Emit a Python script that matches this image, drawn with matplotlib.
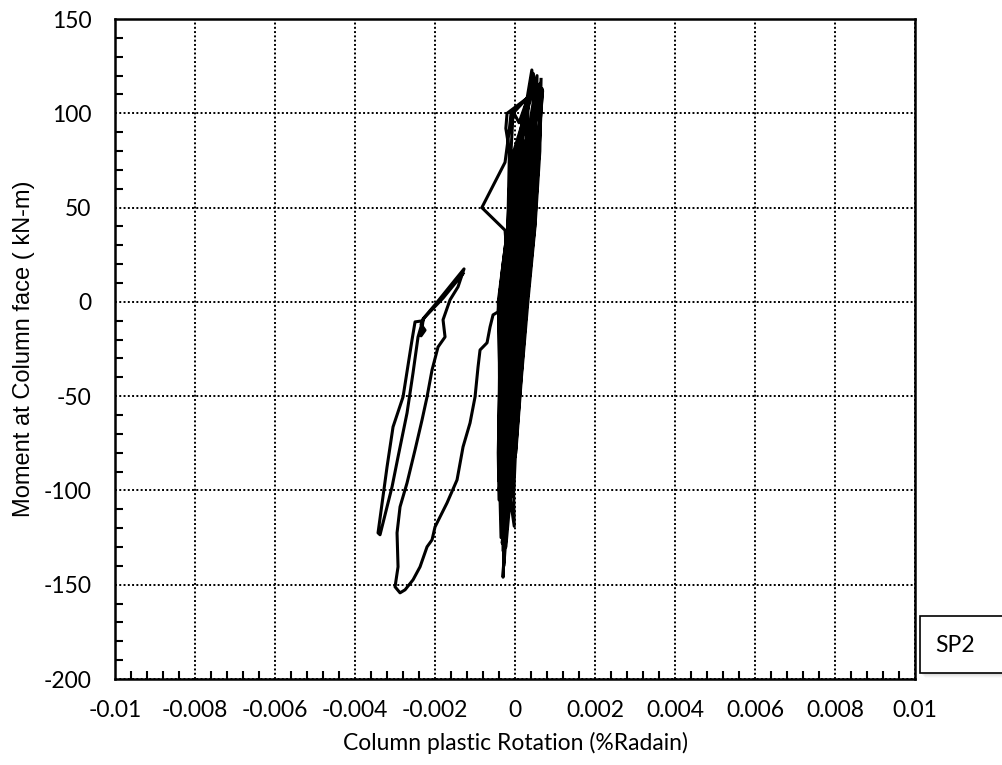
"""Moment-rotation hysteresis at the column face, specimen SP2."""

import matplotlib

matplotlib.use("Agg")

import matplotlib.pyplot as plt  # noqa: E402
from matplotlib.patches import Rectangle  # noqa: E402
from matplotlib.ticker import FixedLocator, MultipleLocator  # noqa: E402

plt.rcParams["font.family"] = ["Lato", "DejaVu Sans"]
plt.rcParams["axes.unicode_minus"] = False

# Cyclic loops near zero rotation (rotation in 1e-4 rad, moment in kN-m)
cycle_rot = [
    6.5, 6.2, 5.0, 3.2, 1.6, 0.2, -3.5, -2.0, -1.1, -0.5, 1.6, 2.6,
    5.0, 4.4, 3.3, 1.35, 0.25, -0.9, -3.0, -3.1, -2.45, -2.35, -0.1, 0.8,
    4.2, 5.5, 4.4, 2.5, 1.0, -0.3, -1.0, -4.0, -4.2, -3.8, -4.2, -1.8, -1.0, -0.5,
    6.0, 3.3, 2.3, 0.0, -0.6, -1.6, -3.0, -2.5, -3.7, -3.3, -3.5, -1.1, -0.3,
    5.5, 5.1, 4.0, 2.1, 0.8, -0.5, -0.2, -1.5, -2.4, -1.6, -1.2, 0.9, 1.9,
    6.8, 6.0, 4.8, 2.9, 1.4, 0.0, -3.8, -3.3, -2.7, -2.7, -0.4, 0.4,
    3.0, -2.0, -2.3, -1.4, -1.6, -1.8, -3.0, -4.0, -3.9, -4.1, -4.0, -1.35, -0.3, 0.6, 2.6, 3.7,
    6.2, 4.0, 3.0, 1.0, 0.0, -1.1, -3.5, -3.8, -4.0, -3.6, -3.8, -2.0, -2.5, -8.3, -2.5, -1.5, -1.0, -0.5, 1.0,
    3.5, 2.6, 1.6, -0.5, -1.1, -2.0, -4.0, -2.9, -2.2, -2.0, 0.2, 1.2,
    4.6, 4.8, 3.6, 1.7, 0.5, -0.7, -2.8, -2.2, -1.4, -0.9, 1.3, 2.2,
    6.3, 6.0, 4.9, 3.0, 1.5, 0.1, -0.3, -3.5, -3.5, -3.0, -3.1, -0.8, 0.1,
    5.2, 3.7, 2.6, 0.3, -0.3, -1.3, -3.2, -1.8, -0.8, -0.1, 1.9, 3.0,
    6.9, 5.7, 4.4, 2.4, 1.1, -0.2, -2.3, -2.6, -1.9, -1.6, 0.6, 1.5, 4.0,
]
cycle_moment = [
    118, 80, 40, 0, -40, -80, -112, -80, -40, 0, 40, 80,
    112, 80, 40, 0, -40, -80, -132, -80, -40, 0, 40, 80,
    123, 85, 40, 0, -40, -80, -100, -105, -80, -40, 0, 40, 80, 100,
    115, 80, 40, 0, -40, -80, -146, -120, -80, -40, 0, 40, 80,
    120, 80, 40, 0, -40, -80, -119, -100, -80, -40, 0, 40, 80,
    113, 80, 40, 0, -40, -80, -95, -80, -40, 0, 40, 80,
    108, 100, 92, 80, 60, 40, 20, 0, -40, -80, -95, -80, -40, 0, 40, 80,
    110, 80, 40, 0, -40, -80, -125, -100, -80, -40, 0, 25, 38, 50, 74, 90, 100, 101, 95,
    110, 80, 40, 0, -40, -80, -100, -80, -40, 0, 40, 80,
    121, 80, 40, 0, -40, -80, -140, -80, -40, 0, 40, 80,
    116, 80, 40, 0, -40, -80, -100, -115, -80, -40, 0, 40, 80,
    117, 80, 40, 0, -40, -80, -128, -80, -40, 0, 40, 80,
    112, 80, 40, 0, -40, -80, -130, -80, -40, 0, 40, 80, 118,
]

# Final excursion to negative rotation: large loop, then the narrow loop (1e-4 rad)
excursion_rot = [
    -3.75, -4.25, -5.5, -6.25, -7.0, -8.75, -9.25, -10.0, -11.25, -13.0,
    -14.5, -17.0, -20.0, -20.75, -22.0, -23.75, -25.5, -27.5, -28.75, -30.0,
    -29.25, -29.5, -28.75, -27.0, -25.0, -23.25, -22.0, -20.75, -19.25, -17.5,
    -18.0, -16.25, -14.25, -12.75, -16.0, -20.0, -23.0,
    -23.5, -22.5, -23.5, -23.0, -25.0, -25.75, -28.0, -30.5, -32.0, -34.25,
    -33.75, -30.75, -29.25, -27.0, -25.5, -24.25, -23.0, -22.5, -18.0, -13.0,
]
excursion_moment = [
    6.4, -5.3, -6.9, -13.3, -21.7, -25.5, -34.5, -50.4, -64.2, -76.9,
    -94.4, -106.6, -119.3, -126.2, -129.9, -140.5, -147.4, -152.7, -154.3, -151.1,
    -140.5, -122.5, -108.7, -96.0, -78.5, -62.6, -50.4, -36.1, -23.9, -18.6,
    -9.5, 1.1, 8.0, 17.5, 9.0, -1.5, -9.0,
    -12.0, -15.0, -18.0, -10.0, -10.6, -20.1, -50.4, -66.3, -87.5, -122.5,
    -123.5, -98.1, -82.2, -58.9, -37.6, -18.6, -9.5, -8.0, 2.0, 15.0,
]

x_ticks = [-0.01, -0.008, -0.006, -0.004, -0.002, 0, 0.002, 0.004, 0.006, 0.008, 0.01]
x_tick_labels = ["-0.01", "-0.008", "-0.006", "-0.004", "-0.002", "0",
                 "0.002", "0.004", "0.006", "0.008", "0.01"]
y_ticks = [-200, -150, -100, -50, 0, 50, 100, 150]

fig = plt.figure(figsize=(10.03, 7.65), dpi=100)
ax = fig.add_axes([0.1147, 0.1124, 0.7976, 0.8627])

for rot, moment in ((cycle_rot, cycle_moment), (excursion_rot, excursion_moment)):
    ax.plot([r * 1e-4 for r in rot], moment, color="black", linewidth=2.2,
            solid_joinstyle="round")

ax.set_xlim(-0.01, 0.01)
ax.set_ylim(-200, 150)
ax.xaxis.set_major_locator(FixedLocator(x_ticks))
ax.set_xticklabels(x_tick_labels)
ax.xaxis.set_minor_locator(MultipleLocator(0.0004))
ax.yaxis.set_major_locator(FixedLocator(y_ticks))
ax.yaxis.set_minor_locator(MultipleLocator(10))

ax.grid(True, which="major", color="black", linestyle=(0, (1, 1.2)), linewidth=1.4)
ax.tick_params(which="both", direction="in", width=1.5, labelsize=16.5, colors="black")
ax.tick_params(which="major", length=0)
ax.tick_params(axis="x", which="major", pad=15)
ax.tick_params(axis="y", which="major", pad=17)
ax.tick_params(which="minor", length=6)
for spine in ax.spines.values():
    spine.set_linewidth(1.8)

ax.set_xlabel("Column plastic Rotation (%Radain)", fontsize=16.5, labelpad=8)
ax.set_ylabel("Moment at Column face ( kN-m)", fontsize=17,
              family=["Liberation Sans", "DejaVu Sans"], labelpad=6)

# SP2 label box with a soft drop shadow, running past the right edge
for i, alpha in enumerate([0.10, 0.08, 0.06, 0.04]):
    off = (i + 2) / 1003
    fig.patches.append(Rectangle((920 / 1003 + off, 92 / 765 - off * 1.3), 0.2, 57 / 765,
                                 transform=fig.transFigure, facecolor="gray",
                                 edgecolor="none", alpha=alpha, zorder=1))
fig.patches.append(Rectangle((920 / 1003, 92 / 765), 0.2, 57 / 765,
                             transform=fig.transFigure, facecolor="white",
                             edgecolor="black", linewidth=1.2, zorder=2))
fig.text(955 / 1003, 120 / 765, "SP2", fontsize=16.5, ha="center", va="center", zorder=3)

fig.savefig("out.png", dpi=100)
